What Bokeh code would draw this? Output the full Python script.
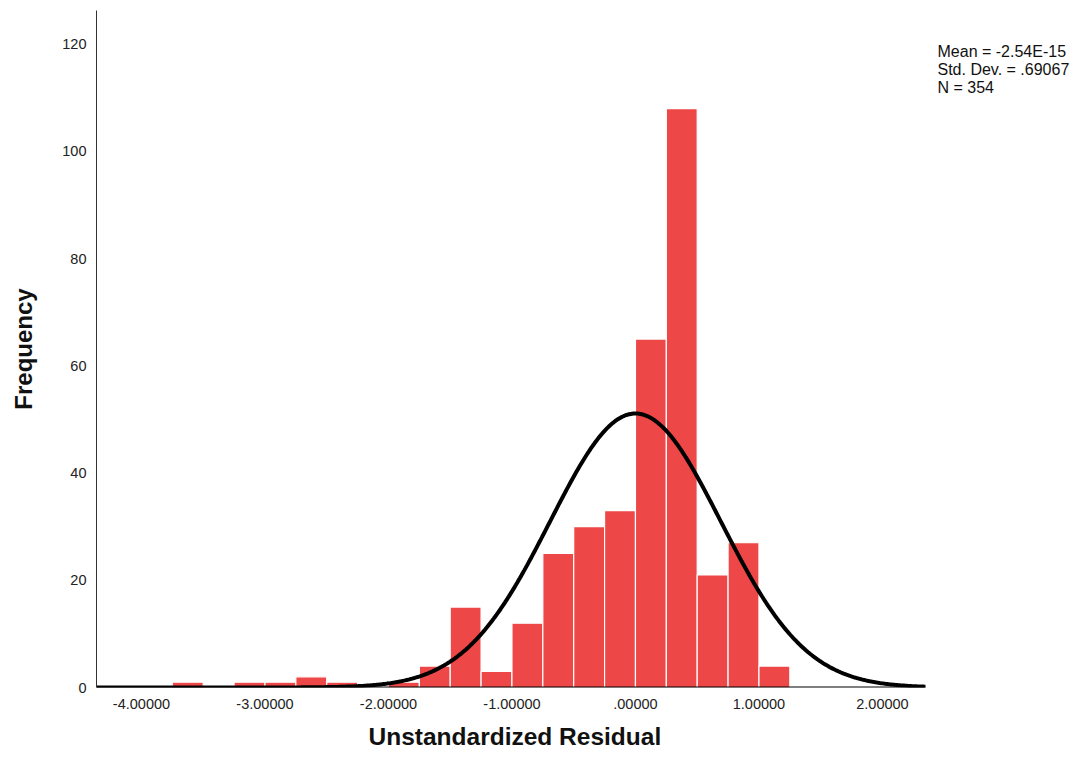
import numpy as np
from bokeh.plotting import figure
from bokeh.models import Range1d, FixedTicker, Label, Title
from bokeh.embed import file_html
from bokeh.resources import INLINE

# ---- data ----
bin_left = [-3.75, -3.25, -3.00, -2.75, -2.50, -2.00, -1.75, -1.50, -1.25, -1.00,
            -0.75, -0.50, -0.25, 0.00, 0.25, 0.50, 0.75, 1.00]
counts = [1, 1, 1, 2, 1, 1, 4, 15, 3, 12, 25, 30, 33, 65, 108, 21, 27, 4]
bin_width = 0.25
mean_val = -2.54e-15
std_val = 0.69067
n_val = 354
x_ticks = [-4, -3, -2, -1, 0, 1, 2]
x_tick_labels = ["-4.00000", "-3.00000", "-2.00000", "-1.00000", ".00000", "1.00000", "2.00000"]
y_ticks = [0, 20, 40, 60, 80, 100, 120]
stats_lines = ["Mean = -2.54E-15", "Std. Dev. = .69067", "N = 354"]
x_title = "Unstandardized Residual"
y_title = "Frequency"

FONT = "Liberation Sans"
X_MIN, X_AXIS_END, X_MAX = -4.364, 2.348, 3.555

p = figure(width=1074, height=762, output_backend="svg", toolbar_location=None,
           x_range=Range1d(X_MIN, X_MAX), y_range=Range1d(0, 126.3),
           min_border_left=96, min_border_top=10, min_border_right=0, min_border_bottom=75)
p.background_fill_color = "white"
p.border_fill_color = "white"
p.outline_line_color = None
p.xgrid.grid_line_color = None
p.ygrid.grid_line_color = None

right = [b + bin_width for b in bin_left]
p.quad(left=bin_left, right=right, bottom=0, top=counts,
       fill_color="#EE4747", line_color="white", line_width=1.2)

# baseline of the chart (x axis line stops where the curve stops)
p.line([X_MIN, X_AXIS_END], [0, 0], line_color="black", line_width=2)

xs = np.linspace(X_MIN, X_AXIS_END, 600)
ys = n_val * bin_width / (std_val * np.sqrt(2 * np.pi)) * np.exp(-0.5 * ((xs - mean_val) / std_val) ** 2)
p.line(xs, ys, line_color="black", line_width=4)

# axes
p.xaxis.ticker = FixedTicker(ticks=x_ticks)
p.xaxis.major_label_overrides = {t: l for t, l in zip(x_ticks, x_tick_labels)}
p.yaxis.ticker = FixedTicker(ticks=y_ticks)
for ax in (p.xaxis[0], p.yaxis[0]):
    ax.major_tick_out = 0
    ax.major_tick_in = 0
    ax.minor_tick_out = 0
    ax.minor_tick_in = 0
    ax.major_label_text_font = FONT
    ax.major_label_text_font_size = "14.5px"
    ax.major_label_text_color = "#222222"
    ax.axis_label_text_font = FONT
    ax.axis_label_text_font_style = "bold"
    ax.axis_label_text_font_size = "24px"
    ax.axis_label_text_color = "#111111"
p.xaxis.axis_line_color = None
p.yaxis.axis_line_color = "#333333"
p.yaxis.axis_line_width = 1
p.yaxis.axis_label = y_title
p.xaxis.major_label_standoff = 11
p.yaxis.major_label_standoff = 10
p.yaxis.axis_label_standoff = 22

# x axis title, centred under the drawn axis (not the whole frame)
p.add_layout(Title(text=x_title, align="left", offset=272, standoff=18,
                   text_font=FONT, text_font_style="bold", text_font_size="24.5px",
                   text_color="#111111"), "below")

# stats text (screen units relative to the frame's bottom-left corner)
for i, line in enumerate(stats_lines):
    p.add_layout(Label(x=841, y=636 - i * 18, x_units="screen", y_units="screen",
                       text=line, text_baseline="alphabetic",
                       text_font=FONT, text_font_size="16px", text_color="#111111"))

open("out.html", "w").write(file_html(p, INLINE))
